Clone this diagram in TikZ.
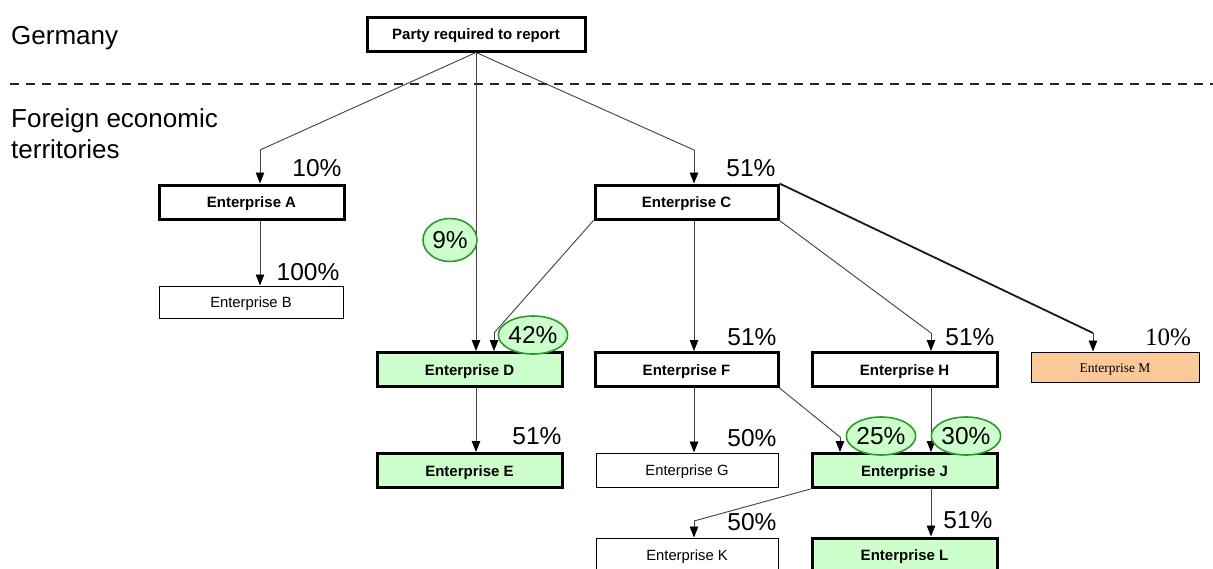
\documentclass[tikz,border=0pt]{standalone}
\usepackage{fontspec}
\setmainfont{Liberation Sans}
\newfontfamily\tnr{Liberation Serif}
\usetikzlibrary{arrows.meta,shapes.geometric}
\definecolor{lgreen}{HTML}{CCFFCC}
\definecolor{dgreen}{HTML}{2E9A2E}
\definecolor{peach}{HTML}{FBC999}
\tikzset{
  boldbox/.style={draw, line width=3pt, minimum width=185pt, minimum height=34pt, inner sep=0pt, font=\fontsize{15}{17}\selectfont\bfseries, fill=white, text depth=0pt, text height=11pt},
  greenbox/.style={boldbox, fill=lgreen},
  thinbox/.style={draw, line width=1pt, minimum width=183pt, minimum height=33pt, inner sep=0pt, font=\fontsize{14.8}{17}\selectfont, fill=white, text depth=0pt, text height=11pt},
  pct/.style={font=\fontsize{24.5}{26}\selectfont, inner sep=0pt},
  oval/.style={ellipse, draw=dgreen, line width=1.6pt, fill=lgreen, inner sep=0pt, font=\fontsize{24.5}{26}\selectfont},
  conn/.style={draw=black!75, line width=0.9pt},
  arr/.style={conn, -{Triangle[length=11pt,width=8.5pt,color=black]}},
  region/.style={font=\fontsize{26}{31}\selectfont, anchor=west, align=left, inner sep=0pt},
}
\begin{document}
\begin{tikzpicture}[x=1pt,y=-1pt]
\useasboundingbox (0,0) rectangle (1213,568);
% regions
\node[region] (ger) at (11,38) {Germany};
\node[region, anchor=north west] (for) at (11,108) {Foreign economic\\territories};
\coordinate (dl) at (10,84);
\coordinate (dr) at (1213,84);
\draw[line width=2pt, black!85, dash pattern=on 9pt off 7pt] (dl) -- (dr);

% boxes
\node[boldbox, minimum width=218pt] (party) at (476,34) {Party required to report};
\node[boldbox] (A) at (251.5,202) {Enterprise A};
\node[thinbox, minimum width=184pt, minimum height=32pt] (B) at (251,302) {Enterprise B};
\node[boldbox, minimum width=183pt] (C) at (686.5,202) {Enterprise C};
\node[greenbox] (D) at (469.5,369.5) {Enterprise D};
\node[greenbox] (E) at (469.5,470.5) {Enterprise E};
\node[boldbox, minimum width=183pt] (F) at (686.5,369.5) {Enterprise F};
\node[boldbox] (H) at (904.5,369.5) {Enterprise H};
\node[thinbox, fill=peach, minimum width=168pt, minimum height=30pt, font=\tnr\fontsize{13.5}{15}\selectfont] (M) at (1115,367) {Enterprise M};
\node[thinbox, minimum width=182pt, minimum height=34pt] (G) at (687,470) {Enterprise G};
\node[greenbox] (J) at (904.5,470.5) {Enterprise J};
\node[thinbox, minimum width=182pt, minimum height=34pt] (K) at (687,555) {Enterprise K};
\node[greenbox] (L) at (904.5,555) {Enterprise L};

% bend points
\coordinate (pa) at (260,150);
\coordinate (pc) at (694,150);
\coordinate (cd) at (494,333);
\coordinate (ch) at (931,333);
\coordinate (cm) at (1093,333);
\coordinate (fj) at (840,437);
\coordinate (jk) at (694,521);

% connectors
\draw[conn] (party.south) -- (pa);
\draw[arr] (pa) -- (A.north -| pa);
\draw[conn] (party.south) -- (pc);
\draw[arr] (pc) -- (C.north -| pc);
\draw[arr] (party.south) -- (D.north -| party.south);
\draw[arr] (A.south -| pa) -- (B.north -| pa);
\draw[conn] (C.south west) -- (cd);
\draw[arr] (cd) -- (D.north -| cd);
\draw[arr] (C.south -| pc) -- (F.north -| pc);
\draw[conn] (C.south east) -- (ch);
\draw[arr] (ch) -- (H.north -| ch);
\draw[conn, line width=1.8pt, draw=black!90] (C.north east) -- (cm);
\draw[arr] (cm) -- (M.north -| cm);
\draw[arr] (D.south -| party.south) -- (E.north -| party.south);
\draw[arr] (F.south -| pc) -- (G.north -| pc);
\draw[conn] (F.south east) -- (fj);
\draw[arr] (fj) -- (J.north -| fj);
\draw[arr] (H.south -| ch) -- (J.north -| ch);
\draw[conn] (J.south west) -- (jk);
\draw[arr] (jk) -- (K.north -| jk);
\draw[arr] (J.south -| ch) -- (L.north -| ch);

% percentages
\node[pct] (pA) at (317,168) {10\%};
\node[pct] (pB) at (308,272) {100\%};
\node[pct] (pC) at (751,168) {51\%};
\node[pct] (pE) at (537,436) {51\%};
\node[pct] (pF) at (752,337) {51\%};
\node[pct] (pH) at (970,337) {51\%};
\node[pct, font=\tnr\fontsize{25}{26}\selectfont] (pM) at (1168,337) {10\%};
\node[pct] (pG) at (752,438) {50\%};
\node[pct] (pK) at (752,522) {50\%};
\node[pct] (pL) at (968,520) {51\%};

% ovals
\node[oval, minimum width=54pt, minimum height=43pt] (o9) at (450,240) {9\%};
\node[oval, minimum width=66pt, minimum height=38pt] (o42) at (533,335) {42\%};
\node[oval, minimum width=67pt, minimum height=38pt] (o25) at (881,436) {25\%};
\node[oval, minimum width=67pt, minimum height=38pt] (o30) at (966,436) {30\%};
\end{tikzpicture}
\end{document}
